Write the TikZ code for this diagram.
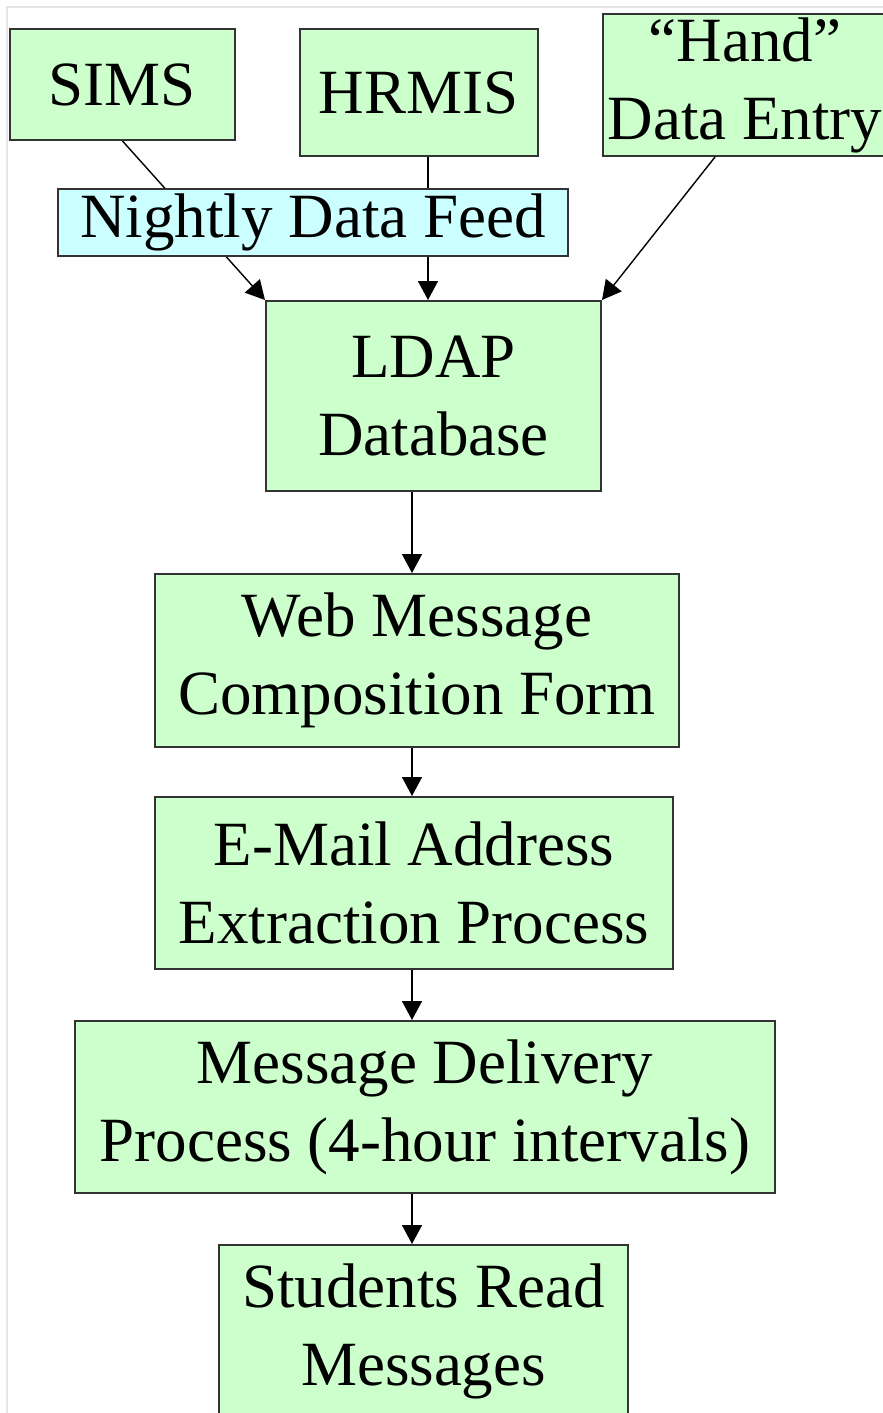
\documentclass[tikz,border=0pt]{standalone}
\usepackage{fontspec}
\setmainfont{Liberation Serif}
\usetikzlibrary{arrows.meta}
\definecolor{boxgreen}{RGB}{204,255,204}
\definecolor{feedcyan}{RGB}{204,255,255}
\definecolor{edgegray}{RGB}{51,51,51}

\begin{document}
\begin{tikzpicture}[x=0.5pt,y=-0.5pt,
  box/.style={draw=edgegray,line width=1pt,fill=boxgreen,inner sep=0pt,align=center,font=\fontsize{31.5}{39}\selectfont},
  feed/.style={box,fill=feedcyan},
  arr/.style={line width=0.7pt,-{Triangle[length=9.5pt,width=10pt]}}]
\useasboundingbox (0,0) rectangle (883,1413);
\clip (0,0) rectangle (883,1413);
\draw [gray!20, line width=1pt] (7,1413)--(7,7)--(883,7);
% sources
\node[box,minimum width=112.5pt,minimum height=55.5pt] (sims) at (122.5,84.5) {SIMS};
\node[box,minimum width=119pt,minimum height=63.5pt] (hrmis) at (418.5,92.5) {HRMIS};
\node[box,minimum width=142pt,minimum height=71pt] (hand) at (745,85) {``Hand''\\Data Entry};
% main chain
\node[box,minimum width=167.5pt,minimum height=95pt] (ldap) at (433.5,396) {LDAP\\Database};
\node[box,minimum width=262pt,minimum height=86.5pt] (webform) at (417,660.5) {Web Message\\Composition Form};
\node[box,minimum width=259pt,minimum height=86pt] (extract) at (414,883) {E-Mail Address\\Extraction Process};
\node[box,minimum width=350pt,minimum height=86pt] (deliver) at (425,1107) {Message Delivery\\Process (4-hour intervals)};
\node[box,minimum width=204.5pt,minimum height=86pt] (students) at (423.5,1331) {Students Read\\Messages};
\coordinate (colA) at (428,0);
\coordinate (colB) at (412,0);
\coordinate (colH) at (715,0);
\draw[arr] (sims.south) -- (ldap.north west);
\draw[arr] (hrmis.south -| colA) -- (ldap.north -| colA);
\draw[arr] (hand.south -| colH) -- (ldap.north east);
\draw[arr] (ldap.south -| colB) -- (webform.north -| colB);
\draw[arr] (webform.south -| colB) -- (extract.north -| colB);
\draw[arr] (extract.south -| colB) -- (deliver.north -| colB);
\draw[arr] (deliver.south -| colB) -- (students.north -| colB);
% label over the feed lines
\node[feed,minimum width=255pt,minimum height=33.5pt] (nightly) at (313,222.5) {Nightly Data Feed};
\end{tikzpicture}
\end{document}
